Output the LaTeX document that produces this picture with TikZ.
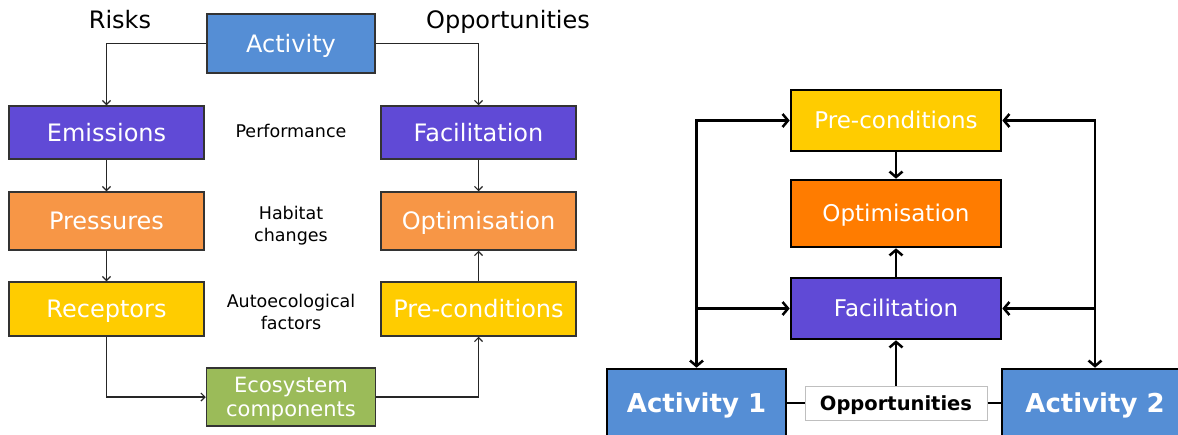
\documentclass[tikz,border=0pt]{standalone}
\usepackage{fontspec}
\setmainfont{DejaVu Sans}
\usetikzlibrary{arrows.meta}
\definecolor{cblue}{HTML}{558ED5}
\definecolor{cpurple}{HTML}{604AD6}
\definecolor{corange}{HTML}{F79646}
\definecolor{cyellow}{HTML}{FFCC00}
\definecolor{cgreen}{HTML}{9BBB59}
\definecolor{cbright}{HTML}{FF7C00}
\definecolor{cborder}{HTML}{333333}
\tikzset{
  lboxbase/.style={draw=cborder, line width=1.5pt, text=white, inner sep=0pt,
    font=\fontsize{24}{28}\selectfont, align=center},
  lbox/.style={lboxbase, text height=18.2pt, text depth=0.9pt},
  rbox/.style={draw=black, line width=2.6pt, text=white, inner sep=0pt,
    minimum width=210pt, font=\fontsize{23}{27}\selectfont, align=center,
    text height=17.5pt, text depth=0.9pt},
  abox/.style={rbox, font=\bfseries\fontsize{26}{30}\selectfont, text height=19.8pt, text depth=1pt},
  larr/.style={draw=black!85, line width=1.2pt, -{Straight Barb[length=4pt,width=8pt]}},
  rarr/.style={draw=black, line width=2.5pt, -{Straight Barb[length=5.5pt,width=13pt]}},
  rline/.style={draw=black, line width=2.5pt},
  midlab/.style={font=\fontsize{17.5}{22}\selectfont, align=center, inner sep=0pt},
  toplab/.style={font=\fontsize{24}{28}\selectfont, inner sep=0pt, text height=18.2pt, text depth=0.9pt},
}
\begin{document}
\begin{tikzpicture}[x=1pt,y=-1pt]
\useasboundingbox (0,0) rectangle (1178,434);
\clip (0,0) rectangle (1178,434);
% ---------- left panel ----------
\node[toplab] (risks) at (120,20) {Risks};
\node[toplab] (opps) at (508,20) {Opportunities};
\node[lbox, fill=cblue, minimum width=168pt, minimum height=59pt] (act) at (291,43.5) {Activity};
\node[lbox, fill=cpurple, minimum width=195pt, minimum height=53pt] (emi) at (106.5,132.5) {Emissions};
\node[lbox, fill=cpurple, minimum width=195pt, minimum height=53pt] (fac) at (478.5,132.5) {Facilitation};
\node[lbox, fill=corange, minimum width=195pt, minimum height=58pt] (pres) at (106.5,221) {Pressures};
\node[lbox, fill=corange, minimum width=195pt, minimum height=58pt] (opt) at (478.5,221) {Optimisation};
\node[lbox, fill=cyellow, minimum width=195pt, minimum height=54pt] (rec) at (106.5,309) {Receptors};
\node[lbox, fill=cyellow, minimum width=195pt, minimum height=54pt] (pcl) at (478.5,309) {Pre-conditions};
\node[lboxbase, fill=cgreen, minimum width=169pt, minimum height=58pt, font=\fontsize{21}{24}\selectfont] (eco) at (291,397) {\rule{0pt}{20pt}Ecosystem\\components};
\node[midlab] (perf) at (291,131) {Performance};
\node[midlab] (hab) at (291,226) {Habitat\\changes};
\node[midlab] (auto) at (291,312) {Autoecological\\factors};
\draw[larr] (act.west) -| (emi.north);
\draw[larr] (act.east) -| (fac.north);
\draw[larr] (emi) -- (pres);
\draw[larr] (pres) -- (rec);
\draw[larr] (rec.south) |- (eco.west);
\draw[larr] (eco.east) -| (pcl.south);
\draw[larr] (pcl) -- (opt);
\draw[larr] (fac) -- (opt);
% ---------- right panel ----------
\node[rbox, fill=cyellow, minimum height=61pt] (pc2) at (896,120.5) {Pre-conditions};
\node[rbox, fill=cbright, minimum height=67pt] (op2) at (896,213.5) {Optimisation};
\node[rbox, fill=cpurple, minimum height=61pt] (fa2) at (896,308.5) {Facilitation};
\node[abox, fill=cblue, minimum width=179pt, minimum height=68pt] (a1) at (696.5,403) {Activity 1};
\node[abox, fill=cblue, minimum width=186pt, minimum height=68pt] (a2) at (1095,403) {Activity 2};
\node[draw=black!25, line width=1pt, fill=white, minimum width=182pt, minimum height=34pt, inner sep=0pt,
  font=\bfseries\fontsize{19.5}{23}\selectfont, text height=14.8pt, text depth=0.8pt] (opp) at (896,403) {Opportunities};
\draw[rarr, {Straight Barb[length=5.5pt,width=13pt]}-{Straight Barb[length=5.5pt,width=13pt]}] (a1.north) |- (pc2.west);
\draw[rarr, {Straight Barb[length=5.5pt,width=13pt]}-{Straight Barb[length=5.5pt,width=13pt]}] (a2.north) |- (pc2.east);
\draw[rarr] (a1.north |- fa2.west) -- (fa2.west);
\draw[rarr] (a2.north |- fa2.east) -- (fa2.east);
\draw[rarr] (pc2) -- (op2);
\draw[rarr] (fa2) -- (op2);
\draw[rarr] (opp) -- (fa2);
\draw[rline] (a1) -- (opp);
\draw[rline] (opp) -- (a2);
\end{tikzpicture}
\end{document}
